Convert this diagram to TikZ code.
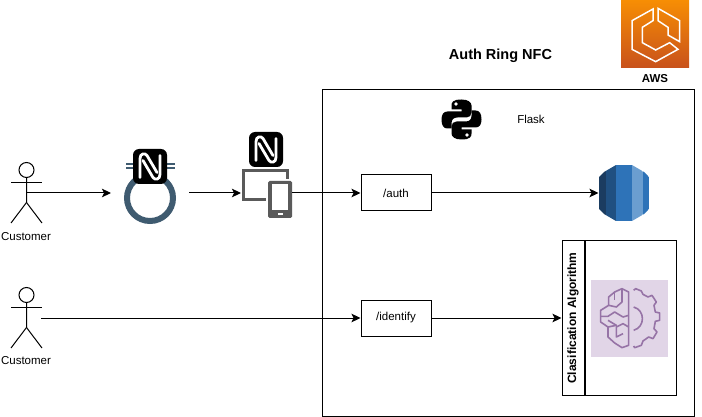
\documentclass[tikz,border=0pt]{standalone}
\usepackage{fontspec}
\setmainfont{Liberation Sans}
\usetikzlibrary{positioning, arrows.meta}
\definecolor{ringblue}{HTML}{3F5B70}
\definecolor{devicegray}{HTML}{5A5A5A}
\definecolor{awstop}{HTML}{F78E04}
\definecolor{awsbottom}{HTML}{C8511B}
\definecolor{mlfill}{HTML}{E1D5E7}
\definecolor{mlline}{HTML}{9673A6}
\definecolor{rdsdark}{HTML}{1B3C60}
\definecolor{rdsmid}{HTML}{205081}
\definecolor{rdsmain}{HTML}{2E73B8}
\definecolor{rdslight}{HTML}{6B9ED0}
\tikzset{
  txt/.style={font=\fontsize{11.5}{13}\selectfont, inner sep=0pt},
  route/.style={draw, line width=1pt, minimum width=70pt, minimum height=36pt, txt},
  boxed/.style={draw, line width=1pt, inner sep=0pt},
  icon/.style={inner sep=0pt, outer sep=0pt},
  pics/stickman/.style={code={
    \draw[line width=1pt] (0,-23) circle (7.5);
    \draw[line width=1pt] (-15.5,-10.5) -- (15.5,-10.5);
    \draw[line width=1pt] (0,-15.5) -- (0,9.5) -- (-15.5,30);
    \draw[line width=1pt] (0,9.5) -- (15.5,30);
  }},
  pics/nfcmark/.style={code={
    \fill[black, rounded corners=6pt] (-17,-17.5) rectangle (17,17.5);
    \draw[white, line width=2.8pt, line cap=round] (-10,11) -- (-10,-8) .. controls (-10,-13) and (-5,-14) .. (-3,-11) -- (7,6);
    \draw[white, line width=2.8pt, line cap=round] (10,-11) -- (10,8) .. controls (10,13) and (5,14) .. (3,11) -- (-7,-6);
  }},
  pics/snake/.style={code={
    \fill (0,-20) .. controls (-9,-20) and (-10,-17) .. (-10,-14) -- (-10,-10) -- (0,-10) -- (0,-8)
      -- (-14,-8) .. controls (-18,-8) and (-20,-5) .. (-20,0) .. controls (-20,6) and (-18,9) .. (-14,9)
      -- (-10,9) -- (-10,4) .. controls (-10,0) and (-8,-2) .. (-4,-2) -- (5,-2)
      .. controls (8,-2) and (10,-4) .. (10,-7) -- (10,-14) .. controls (10,-17) and (7,-20) .. (0,-20) -- cycle;
    \fill[white] (-5.5,-15.5) circle (1.8);
  }},
}
\begin{document}
\begin{tikzpicture}[x=1pt,y=-1pt,>={Stealth[length=9pt,width=8.5pt,inset=2pt]}]
  \useasboundingbox (0,0) rectangle (702,417);
  \node[boxed, minimum width=372pt, minimum height=326pt] (flask) at (508,253) {};
  \node[txt, font=\fontsize{14.5}{16}\selectfont\bfseries] (title) at (500.5,56) {Auth Ring NFC};
  \node[txt] (flasklabel) at (531,119) {Flask};

  \node[icon, minimum width=31pt, minimum height=61pt] (customerA) at (26.5,193) {};
  \pic at (26.5,193) {stickman};
  \node[txt] (customerAlabel) at (26,237) {Customer};
  \node[icon, minimum width=31pt, minimum height=61pt] (customerB) at (26.5,318) {};
  \pic at (26.5,318) {stickman};
  \node[txt] (customerBlabel) at (26,361) {Customer};
  \coordinate (customerAout) at (26.5,193);
  \coordinate (customerBout) at (41,318);

  \node[icon, minimum width=78pt, minimum height=76pt] (ring) at (150,193) {};
  \draw[ringblue, line width=1.2pt] (126,164) -- (175,164);
  \draw[ringblue, line width=1.2pt] (126,168) -- (175,168);
  \draw[ringblue, line width=6pt] (150,198) circle (23);
  \pic at (150,166.5) {nfcmark};

  \node[icon, minimum width=51pt, minimum height=50pt] (device) at (266.5,193) {};
  \draw[devicegray, line width=3pt] (287,179) -- (287,170.5) -- (243.5,170.5) -- (243.5,199.5) -- (266,199.5);
  \fill[devicegray, rounded corners=1.5pt] (268,181) rectangle (292,218);
  \fill[white] (272,184) rectangle (288,210);
  \fill[white] (277.5,213.5) rectangle (282.5,215.5);
  \pic at (266,149.5) {nfcmark};

  \node[route] (auth) at (396,193) {/auth};
  \node[route, below=88pt of auth] (identify) {/identify};

  \begin{scope}[shift={(461.5,119.5)}]
    \pic {snake};
    \pic[rotate=180] {snake};
  \end{scope}
  \node[icon, minimum width=41pt, minimum height=40pt] (python) at (461.5,119.5) {};

  \node[icon, minimum width=51pt, minimum height=56pt] (rds) at (624,193) {};
  \begin{scope}
    \clip (599,177) -- (604,172) -- (616,165) -- (632,165) -- (644,172) -- (649,177) -- (649,209) -- (644,214) -- (632,221) -- (616,221) -- (604,214) -- (599,209) -- cycle;
    \fill[rdsdark] (599,165) rectangle (605.5,221);
    \fill[rdsmid] (605.5,165) rectangle (616,221);
    \fill[rdsmain] (616,165) rectangle (632,221);
    \fill[rdslight] (632,165) rectangle (643,221);
    \fill[rdsmain] (643,165) rectangle (649,221);
  \end{scope}

  \node[boxed, minimum width=22pt, minimum height=155pt] (algotitle) at (573,318)
    {\rotatebox{90}{\bfseries\fontsize{12}{14}\selectfont Clasification Algorithm}};
  \node[boxed, minimum width=91pt, minimum height=155pt, right=0pt of algotitle] (algobody) {};
  \node[icon, fill=mlfill, minimum size=77pt] (mlicon) at (629.5,318.5) {};
  \begin{scope}[shift={(588,277)}, x=.3333pt, y=-.3333pt, mlline, line width=1.6pt, line join=round]
    \draw (122,45) -- (102,35) -- (80,45) -- (62,60) -- (62,85) -- (38,100) -- (38,135) -- (60,150) -- (60,180) -- (80,198) -- (102,212) -- (122,205) -- cycle;
    \draw (102,35) -- (102,75) -- (85,90) -- (62,85);
    \draw (80,45) -- (80,70);
    \draw (38,118) -- (60,118) -- (80,105) -- (105,120) -- (122,115);
    \draw (60,130) -- (85,145) -- (60,150);
    \draw (122,150) -- (105,140) -- (85,150) -- (85,180) -- (105,170);
    \draw (137,40) -- (143,35) -- (160,42) -- (165,52) -- (180,60) -- (192,55) -- (205,75) -- (198,85) -- (202,105) -- (215,108) -- (215,130) -- (202,133) -- (198,155) -- (207,165) -- (195,185) -- (182,180) -- (165,192) -- (160,205) -- (140,212) -- (137,207);
    \draw (137,90) .. controls (172,100) and (172,150) .. (137,160);
  \end{scope}

  \node[icon, top color=awstop, bottom color=awsbottom, minimum size=68pt] (aws) at (655,34) {};
  \begin{scope}[shift={(618,0)}, x=.3333pt, y=-.3333pt, white, line width=1.5pt, line join=miter]
    \draw (105,27) -- (42,62) -- (42,148) -- (113,185) -- (180,148) -- (155,128) -- (113,150) -- (73,128) -- (73,82) -- (105,62) -- cycle;
    \draw (120,25) -- (185,62) -- (185,125) -- (150,105) -- (150,82) -- (120,62) -- cycle;
  \end{scope}
  \node[txt, font=\fontsize{11.5}{13}\selectfont\bfseries, below=6pt of aws] (awslabel) {AWS};

  \draw[->, line width=1pt] (customerAout) -- (ring.west);
  \draw[->, line width=1pt] (ring.east) -- (device.west);
  \draw[->, line width=1pt] (device.east) -- (auth.west);
  \draw[->, line width=1pt] (auth.east) -- (rds.west);
  \draw[->, line width=1pt] (customerBout) -- (identify.west);
  \draw[->, line width=1pt] (identify.east) -- (algotitle.west);
\end{tikzpicture}
\end{document}
